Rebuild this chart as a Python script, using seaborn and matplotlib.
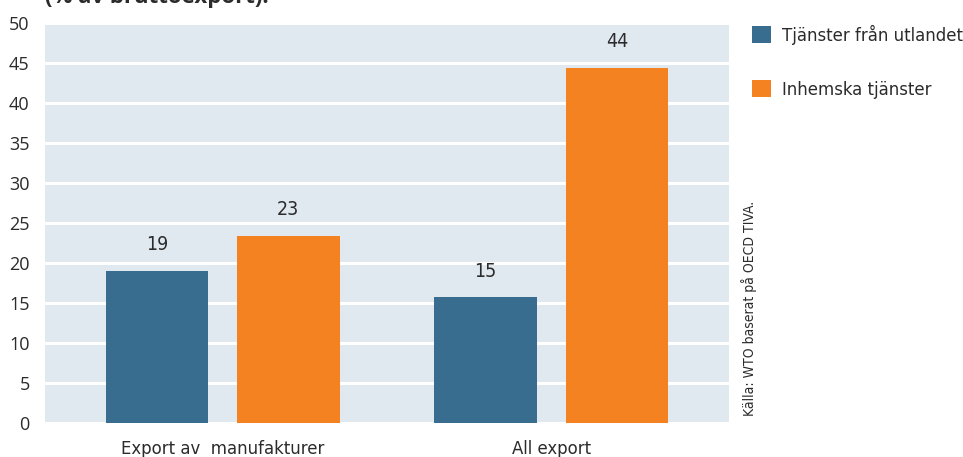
import matplotlib
matplotlib.use("Agg")
import matplotlib.pyplot as plt
import seaborn as sns
import pandas as pd

# Service content of exports, share of gross exports (%)
categories = ["Export av  manufakturer", "All export"]
series_names = ["Tjänster från utlandet", "Inhemska tjänster"]
foreign_services = [19.0, 15.7]
domestic_services = [23.4, 44.4]
yticks = [0, 5, 10, 15, 20, 25, 30, 35, 40, 45, 50]

blue = "#386d8f"
orange = "#f58220"
panel = "#e0e8f0"
text_col = "#2b2b2b"

df = pd.DataFrame({
    "kategori": categories * 2,
    "serie": [series_names[0]] * 2 + [series_names[1]] * 2,
    "andel": foreign_services + domestic_services,
})

sns.set_theme(style="white")
plt.rcParams["font.family"] = ["DejaVu Sans"]
plt.rcParams["font.stretch"] = "condensed"
plt.rcParams["text.color"] = text_col

fig = plt.figure(figsize=(9.63, 4.57), dpi=100)
ax = fig.add_axes([45 / 963, 34 / 457, 684 / 963, 400 / 457])
ax.set_facecolor(panel)

sns.barplot(data=df, x="kategori", y="andel", hue="serie",
            palette=[blue, orange], width=0.8, gap=0.22,
            saturation=1, linewidth=0, ax=ax, legend=True, zorder=3)

ax.set_ylim(0, 50)
ax.set_xlim(-0.54, 1.54)
ax.set_yticks(yticks)
ax.yaxis.grid(True, color="white", linewidth=2.2, zorder=1)
ax.xaxis.grid(False)
ax.set_axisbelow(True)
for s in ax.spines.values():
    s.set_visible(False)
ax.set_xlabel("")
ax.set_ylabel("")
ax.tick_params(axis="both", length=0)
ax.tick_params(axis="y", pad=11)
ax.tick_params(axis="x", pad=12)
for lab in ax.get_yticklabels():
    lab.set_fontfamily(["Open Sans", "DejaVu Sans"])
    lab.set_fontstretch("normal")
    lab.set_fontsize(13)
    lab.set_color(text_col)
for lab in ax.get_xticklabels():
    lab.set_fontsize(13.2)
    lab.set_color(text_col)

# value labels above each bar
for cont in ax.containers:
    ax.bar_label(cont, labels=[f"{int(v)}" for v in cont.datavalues],
                 padding=12, fontsize=14, color=text_col)

handles, labels = ax.get_legend_handles_labels()
ax.get_legend().remove()
fig.legend(handles, labels, loc="upper left",
           bbox_to_anchor=(752 / 963, 1 - 25 / 457),
           frameon=False, fontsize=13.2, borderpad=0, borderaxespad=0,
           handlelength=1.05, handleheight=1.05, handletextpad=0.6,
           labelspacing=1.9)

fig.text(749 / 963, 1 - 308 / 457, "Källa: WTO baserat på OECD TIVA.",
         rotation=90, ha="center", va="center", fontsize=10, color=text_col)

fig.text(45 / 963, 1 - 3 / 457, "(% av bruttoexport).",
         ha="left", va="baseline", fontsize=16, fontweight="bold",
         family=["Open Sans", "DejaVu Sans"], fontstretch="normal",
         color=text_col)

fig.savefig("out.png", dpi=100, facecolor="white")
